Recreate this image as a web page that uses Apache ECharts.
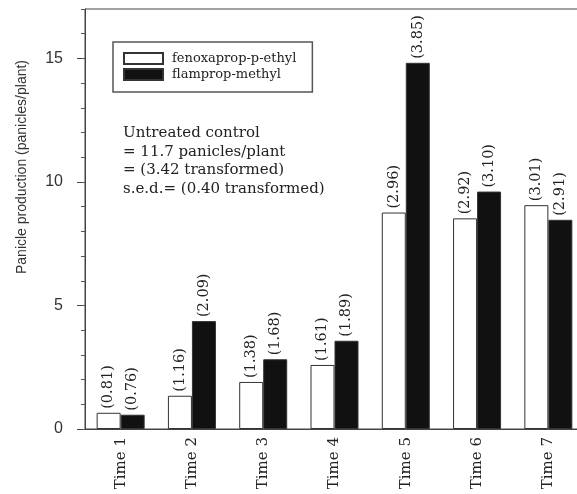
<!DOCTYPE html>
<html>
<head>
<meta charset="utf-8">
<script src="https://cdn.jsdelivr.net/npm/echarts@6/dist/echarts.min.js"></script>
<style>
  html, body { margin: 0; padding: 0; background: #fff; }
  #chart { width: 577px; height: 494px; }
</style>
</head>
<body>
<div id="chart"></div>
<script>
// Sampling occasions
const categories = ['Time 1', 'Time 2', 'Time 3', 'Time 4', 'Time 5', 'Time 6', 'Time 7'];

// Means on the square-root transformed scale (printed above each bar)
const fenoxapropTransformed = [0.81, 1.16, 1.38, 1.61, 2.96, 2.92, 3.01];
const flampropTransformed   = [0.76, 2.09, 1.68, 1.89, 3.85, 3.10, 2.91];

// Y-axis tick labels
const yTickValues = [0, 5, 10, 15];

const seriesNames = ['fenoxaprop-p-ethyl', 'flamprop-methyl'];

const noteLines = [
  'Untreated control',
  '= 11.7 panicles/plant',
  '= (3.42 transformed)',
  's.e.d.= (0.40 transformed)'
];

// Bars show the back-transformed mean (panicles/plant), i.e. the square of the transformed mean
const backTransform = t => t * t;

const serif = 'DejaVu Serif';
const sans = 'Liberation Sans';
const ink = '#222';

function barSeries(name, transformed, fill) {
  return {
    name: name,
    type: 'bar',
    barWidth: 24,
    barGap: '0%',
    data: transformed.map(backTransform),
    itemStyle: { color: fill, borderColor: '#333', borderWidth: 1 },
    label: {
      show: true,
      position: 'top',
      rotate: 90,
      align: 'left',
      verticalAlign: 'middle',
      distance: 4,
      fontFamily: serif,
      fontSize: 14.5,
      color: ink,
      formatter: p => '(' + transformed[p.dataIndex].toFixed(2) + ')'
    }
  };
}

const chart = echarts.init(document.getElementById('chart'), null, { renderer: 'canvas' });

chart.setOption({
  animation: false,
  backgroundColor: '#fff',
  grid: {
    left: 85, top: 9, width: 499, height: 420,
    containLabel: false,
    outerBoundsMode: 'none',
    show: true, borderColor: '#444', borderWidth: 1, backgroundColor: 'transparent'
  },
  legend: {
    orient: 'vertical',
    left: 113, top: 42,
    padding: [10, 16, 11, 10],
    borderColor: '#555', borderWidth: 1.5,
    icon: 'rect',
    itemWidth: 39, itemHeight: 11, itemGap: 3,
    textStyle: { fontFamily: serif, fontSize: 13, color: ink, padding: [0, 0, 0, 4] },
    data: seriesNames
  },
  xAxis: {
    type: 'category',
    data: categories,
    boundaryGap: true,
    axisLine: { lineStyle: { color: '#444', width: 1 } },
    axisTick: { alignWithLabel: true, length: 6, lineStyle: { color: '#444' } },
    axisLabel: {
      interval: 0, rotate: 90, margin: 8,
      fontFamily: serif, fontSize: 15, color: ink
    },
    splitLine: { show: false }
  },
  yAxis: [
    {
      type: 'value', min: 0, max: 17, interval: 5,
      axisLine: { show: true, lineStyle: { color: '#444', width: 1 } },
      axisTick: { show: true, length: 8, customValues: yTickValues, lineStyle: { color: '#444' } },
      axisLabel: {
        customValues: yTickValues, margin: 22,
        fontFamily: sans, fontSize: 16, color: '#333'
      },
      splitLine: { show: false }
    },
    {
      type: 'value', min: 0, max: 17, interval: 1, position: 'left',
      axisLine: { show: false },
      axisTick: { show: true, length: 4, lineStyle: { color: '#555' } },
      axisLabel: { show: false },
      splitLine: { show: false }
    }
  ],
  graphic: [
    {
      type: 'text',
      x: 22, y: 167,
      rotation: Math.PI / 2,
      style: {
        text: 'Panicle production (panicles/plant)',
        fontFamily: sans, fontSize: 14, fill: '#333',
        align: 'center', verticalAlign: 'middle'
      }
    },
    {
      type: 'text',
      left: 123, top: 124,
      style: {
        text: noteLines.join('\n'),
        fontFamily: serif, fontSize: 15, lineHeight: 18.5, fill: ink
      }
    }
  ],
  series: [
    barSeries(seriesNames[0], fenoxapropTransformed, '#fff'),
    barSeries(seriesNames[1], flampropTransformed, '#111')
  ]
});
</script>
</body>
</html>
